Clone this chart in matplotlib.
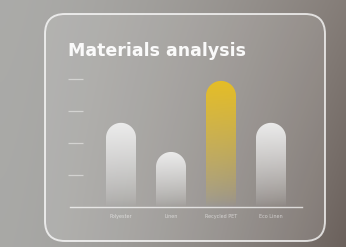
import matplotlib.pyplot as plt
import numpy as np
from matplotlib.patches import FancyBboxPatch
from matplotlib.path import Path
from matplotlib.patches import PathPatch

# data
materials = ["Polyester", "Linen", "Recycled PET", "Eco Linen"]
scores = [2.63, 1.72, 3.94, 2.63]
highlight = [False, False, True, False]
ytick_vals = [1, 2, 3, 4]

W, H = 346, 247
fig = plt.figure(figsize=(W / 100, H / 100), dpi=100)

# background: soft gray to warm brown blur
bg = fig.add_axes([0, 0, 1, 1])
bg.set_xlim(0, W)
bg.set_ylim(H, 0)
bg.axis("off")
xx, yy = np.meshgrid(np.linspace(0, 1, 200), np.linspace(0, 1, 150))
xx = xx ** 1.6
c_tl = np.array([0.67, 0.67, 0.66])
c_tr = np.array([0.52, 0.49, 0.47])
c_bl = np.array([0.66, 0.66, 0.65])
c_br = np.array([0.42, 0.38, 0.36])
img = (c_tl * ((1 - xx) * (1 - yy))[..., None] + c_tr * (xx * (1 - yy))[..., None]
       + c_bl * ((1 - xx) * yy)[..., None] + c_br * (xx * yy)[..., None])
bg.imshow(img, extent=(0, W, H, 0), aspect="auto", zorder=0)

# card
card = FancyBboxPatch((45, 14), 280, 227, boxstyle="round,pad=0,rounding_size=20",
                      facecolor=(1, 1, 1, 0.12), edgecolor=(1, 1, 1, 0.75), lw=1.4, zorder=1)
bg.add_patch(card)
bg.text(68, 51, "Materials analysis", color="white", fontsize=12.5, fontweight="bold",
        family="DejaVu Sans", va="center", ha="left", zorder=2, alpha=0.95)

# chart axes (pixel box: left 68, right 302, bottom 207, top 70)
px_l, px_r, px_b, px_t = 68, 302, 207, 70
ax = fig.add_axes([px_l / W, 1 - px_b / H, (px_r - px_l) / W, (px_b - px_t) / H])
ax.patch.set_alpha(0)
x_unit, y_unit = 50, 32
ax.set_xlim(-(121 - px_l) / x_unit, (px_r - 121) / x_unit)
ax.set_ylim(0, (px_b - px_t) / y_unit)
for s in ax.spines.values():
    s.set_visible(False)
ax.set_xticks([])
ax.set_yticks([])

half_w = 15 / x_unit
cap_h = 15 / y_unit
for i, (v, hl) in enumerate(zip(scores, highlight)):
    col = np.array([0.91, 0.75, 0.13]) if hl else np.array([0.94, 0.94, 0.94])
    n = 100
    alpha = np.linspace(0.95, 0.0, n) ** 0.8
    grad = np.zeros((n, 1, 4))
    grad[:, 0, :3] = col
    grad[:, 0, 3] = alpha
    x0, x1 = i - half_w, i + half_w
    im = ax.imshow(grad, extent=(x0, x1, 0, v), aspect="auto", zorder=3,
                   interpolation="bilinear")
    t = np.linspace(np.pi, 0, 40)
    top_x = i + half_w * np.cos(t)
    top_y = v - cap_h + cap_h * np.sin(t)
    verts = [(x0, 0)] + list(zip(top_x, top_y)) + [(x1, 0), (x0, 0)]
    codes = [Path.MOVETO] + [Path.LINETO] * (len(verts) - 2) + [Path.CLOSEPOLY]
    clip = PathPatch(Path(verts, codes), transform=ax.transData, facecolor="none", edgecolor="none")
    ax.add_patch(clip)
    im.set_clip_path(clip)

# guide dashes and baseline
ax.hlines(ytick_vals, 0, 15 / (px_r - px_l), transform=ax.get_yaxis_transform(),
          color=(1, 1, 1, 0.45), lw=0.9)
ax.axhline(0, xmin=2 / (px_r - px_l), xmax=1, color=(1, 1, 1, 0.7), lw=1.0, clip_on=False)
for i, name in enumerate(materials):
    ax.text(i, -9 / y_unit, name, color=(1, 1, 1, 0.6), fontsize=3.5, ha="center", va="center")

fig.savefig("out.png", dpi=100)
